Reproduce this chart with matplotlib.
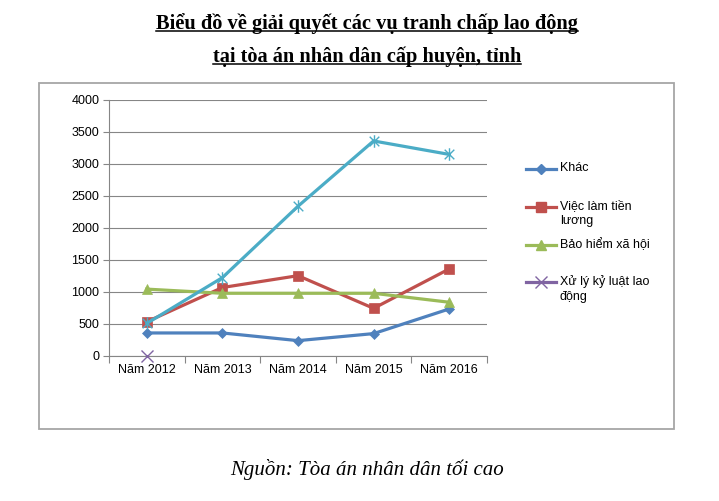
import numpy as np
import matplotlib.pyplot as plt
from matplotlib.lines import Line2D
from matplotlib.patches import Rectangle
from matplotlib.path import Path

# data
years = ['Năm 2012', 'Năm 2013', 'Năm 2014', 'Năm 2015', 'Năm 2016']
khac = [360, 360, 240, 350, 735]
viec_lam = [535, 1070, 1255, 745, 1360]
bao_hiem = [1045, 980, 980, 980, 840]
ky_luat = [0, np.nan, np.nan, np.nan, np.nan]
khac_2 = [510, 1225, 2340, 3360, 3150]   # cyan series, not in legend

labels = ['Khác', 'Việc làm tiền\nlương', 'Bảo hiểm xã hội', 'Xử lý kỷ luật lao\nđộng']
colors = ['#4F81BD', '#C0504D', '#9BBB59', '#8064A2', '#4BACC6']

# excel "star" marker: an x with a vertical bar
star = Path([(-1, -1), (1, 1), (-1, 1), (1, -1), (0, -1.3), (0, 1.3)],
            [Path.MOVETO, Path.LINETO, Path.MOVETO, Path.LINETO, Path.MOVETO, Path.LINETO])
markers = ['D', 's', '^', 'x', star]
msizes = [5, 7, 7, 8, 9]

title1 = 'Biểu đồ về giải quyết các vụ tranh chấp lao động'
title2 = 'tại tòa án nhân dân cấp huyện, tỉnh'
source = 'Nguồn: Tòa án nhân dân tối cao'

plt.rcParams['font.family'] = ['Liberation Sans', 'DejaVu Sans']

W, H = 719, 501
fig = plt.figure(figsize=(W / 100, H / 100), dpi=100)
ax = fig.add_axes([109 / W, 1 - 356 / H, 378 / W, 256 / H])

x = np.arange(len(years))
series = [khac, viec_lam, bao_hiem, ky_luat, khac_2]
for s, c, m, ms in zip(series, colors, markers, msizes):
    thin = isinstance(m, Path) or m == 'x'
    ax.plot(x, s, color=c, marker=m, markersize=ms, lw=2.3,
            markeredgecolor=c, markeredgewidth=1.0 if thin else 0.5,
            zorder=3, clip_on=False)

ax.set_xlim(-0.5, 4.5)
ax.set_ylim(0, 4000)
ax.set_yticks(np.arange(0, 4001, 500))
ax.set_xticks(x)
ax.set_xticklabels(years)
ax.set_xticks(np.arange(-0.5, 5, 1), minor=True)
ax.tick_params(axis='x', which='major', length=0, pad=6, labelsize=9)
ax.tick_params(axis='x', which='minor', length=5, color='#868686', width=0.8)
ax.tick_params(axis='y', length=4, color='#868686', width=0.8, labelsize=9, pad=3)
ax.yaxis.grid(True, color='#868686', lw=0.8)
ax.set_axisbelow(True)
for sp in ['top', 'right']:
    ax.spines[sp].set_visible(False)
for sp in ['left', 'bottom']:
    ax.spines[sp].set_color('#868686')
    ax.spines[sp].set_linewidth(0.8)

# outer chart border
fig.add_artist(Rectangle((39 / W, 1 - 429 / H), 635 / W, 346 / H, transform=fig.transFigure,
                         fill=False, edgecolor='#A6A6A6', lw=1.3))

# legend drawn as in the Excel chart
leg_y = [169, 207, 245, 282]
for lab, c, m, ms, yy in zip(labels, colors[:4], markers[:4], msizes[:4], leg_y):
    fy = 1 - yy / H
    fig.add_artist(Line2D([526 / W, 556 / W], [fy, fy], color=c, lw=2.3, transform=fig.transFigure))
    fig.add_artist(Line2D([541 / W], [fy], color=c, marker=m, markersize=ms,
                          markeredgecolor=c, transform=fig.transFigure))
    fig.text(560 / W, 1 - (yy - 7) / H, lab, fontsize=9, va='top', ha='left', linespacing=1.35)

# titles
serif = ['Liberation Serif', 'DejaVu Serif']
t1 = fig.text(367 / W, 1 - 24 / H, title1, fontsize=14.7, fontweight='bold', family=serif,
              ha='center', va='center')
t2 = fig.text(367 / W, 1 - 57 / H, title2, fontsize=14.7, fontweight='bold', family=serif,
              ha='center', va='center')
fig.text(367 / W, 1 - 469 / H, source, fontsize=15, style='italic', family=serif,
         ha='center', va='center')

# underline the title lines
fig.canvas.draw()
r = fig.canvas.get_renderer()
for t in (t1, t2):
    bb = t.get_window_extent(r)
    yl = bb.y0 + 3.5
    fig.add_artist(Line2D([bb.x0 / W, bb.x1 / W], [yl / H, yl / H], color='black', lw=1.1,
                          transform=fig.transFigure))

fig.savefig('out.png', dpi=100)
